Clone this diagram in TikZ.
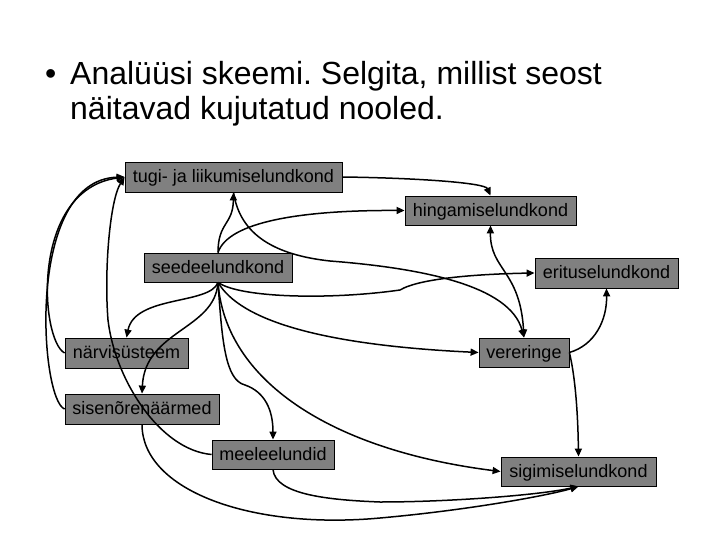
\documentclass[tikz,border=0pt]{standalone}
\usepackage{fontspec}
\setmainfont{Liberation Sans}
\usetikzlibrary{arrows.meta}
\definecolor{boxgray}{RGB}{128,128,128}
\frenchspacing
\begin{document}
\begin{tikzpicture}[x=1pt,y=-1pt,
  sysbox/.style={draw=black, line width=0.8pt, fill=boxgray, inner sep=0pt,
    text height=15pt, text depth=4pt,
    font=\fontsize{18}{20}\selectfont, text=black},
  conn/.style={line width=1.5pt, -{Triangle[length=8pt,width=7pt]}},
  conntwo/.style={line width=1.5pt, {Triangle[length=8pt,width=7pt]}-{Triangle[length=8pt,width=7pt]}},
  titletext/.style={font=\fontsize{32}{36}\selectfont, anchor=base west, inner sep=0pt}]
\useasboundingbox (0,0) rectangle (720,540);
\fill[white] (0,0) rectangle (720,540);

% title
\node[titletext] (bullet) at (45,85) {•};
\node[titletext] (t1) at (70,85) {Analüüsi skeemi. Selgita, millist seost};
\node[titletext] (t2) at (70,120) {näitavad kujutatud nooled.};

% boxes
\node[sysbox, minimum width=217pt, minimum height=30pt] (tugi) at (233.5,177) {tugi- ja liikumiselundkond};
\node[sysbox, minimum width=171pt, minimum height=29pt] (hing) at (490.5,210.5) {hingamiselundkond};
\node[sysbox, minimum width=148pt, minimum height=29pt] (seede) at (218,267.5) {seedeelundkond};
\node[sysbox, minimum width=143pt, minimum height=30pt] (erit) at (606.5,273) {erituselundkond};
\node[sysbox, minimum width=123pt, minimum height=30pt] (narv) at (126.5,353) {närvisüsteem};
\node[sysbox, minimum width=90pt, minimum height=29pt] (verer) at (524,352.5) {vereringe};
\node[sysbox, minimum width=154pt, minimum height=30pt] (sise) at (142,409) {sisenõrenäärmed};
\node[sysbox, minimum width=122pt, minimum height=29pt] (meele) at (273,454.5) {meeleelundid};
\node[sysbox, minimum width=155pt, minimum height=29pt] (sigi) at (578.5,471.5) {sigimiselundkond};

% connectors from top of seedeelundkond
\draw[conn] (seede.north) .. controls (218,222) and (233,225) .. (tugi.south);
\draw[conn] (seede.north) .. controls (228,222) and (300,210) .. (hing.west);

% from tugi
\draw[conn] (tugi.east) .. controls (420,178) and (485,183) .. (hing.north);
\draw[conn] (tugi.south) .. controls (240,235) and (275,255) .. (330,261)
            .. controls (420,268) and (510,285) .. (verer.north);

% hingamis <-> vereringe
\draw[conntwo] (hing.south) .. controls (490,270) and (520,270) .. (verer.north);

% from bottom of seedeelundkond
\draw[conn] (seede.south) .. controls (240,298) and (330,300) .. (400,290)
            .. controls (420,278) and (480,274) .. (erit.west);
\draw[conn] (seede.south) .. controls (240,320) and (320,345) .. (verer.west);
\draw[conn] (seede.south) .. controls (225,380) and (330,450) .. (sigi.west);
\draw[conn] (seede.south) .. controls (222,340) and (225,380) .. (245,385)
            .. controls (265,392) and (273,410) .. (meele.north);
\draw[conn] (seede.south) .. controls (210,305) and (135,295) .. (narv.north);
\draw[conn] (seede.south) .. controls (215,330) and (145,330) .. (sise.north);

% vereringe
\draw[conn] (verer.east) .. controls (595,345) and (607,320) .. (erit.south);
\draw[conn] (verer.east) .. controls (576,380) and (578,420) .. (sigi.north);

% left side to tugi
\draw[conn] (narv.west) .. controls (40,340) and (30,190) .. (tugi.west);
\draw[conn] (sise.west) .. controls (40,400) and (25,180) .. (tugi.west);
\draw[conn] (meele.west) .. controls (160,450) and (115,380) .. (108,320)
            .. controls (104,270) and (110,200) .. (tugi.west);

% bottom to sigimis
\draw[conn] (sise.south) .. controls (142,490) and (250,530) .. (380,518)
            .. controls (470,510) and (550,495) .. (sigi.south);
\draw[conn] (meele.south) .. controls (275,495) and (330,500) .. (380,502)
            .. controls (450,502) and (540,495) .. (sigi.south);
\end{tikzpicture}
\end{document}
